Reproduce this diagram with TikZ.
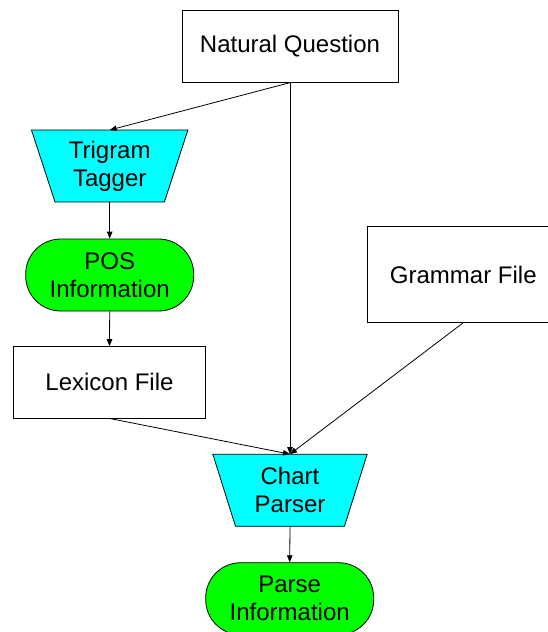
\documentclass[tikz,border=0pt]{standalone}
\usepackage{fontspec}
\setmainfont{Liberation Sans}
\usetikzlibrary{arrows.meta,calc,backgrounds}

\definecolor{stagefill}{RGB}{0,255,255}
\definecolor{resultfill}{RGB}{0,255,0}

\tikzset{
  every node/.style={font=\fontsize{24}{28}\selectfont, align=center, inner sep=0pt},
  outline/.style={draw=black, line width=0.8pt},
  filebox/.style={outline, fill=white, minimum width=#1, minimum height=71.5pt},
  resultpill/.style={outline, fill=resultfill, minimum width=168pt, minimum height=72pt, rounded corners=35pt},
  funnel/.style={minimum width=156pt, minimum height=71.5pt},
  flow/.style={line width=0.8pt, draw=black, -{Triangle[length=7pt,width=5.5pt]}}
}

% inverted trapezoid drawn behind a (borderless) node
\newcommand\funnelshape[2]{%
  \begin{scope}[on background layer]
    \draw[outline, fill=stagefill]
      (#1.north west) -- (#1.north east)
      -- ($(#1.south east)+(-#2,0)$) -- ($(#1.south west)+(#2,0)$) -- cycle;
  \end{scope}}

\begin{document}
\begin{tikzpicture}[x=1pt, y=-1pt]
  \useasboundingbox (0,0) rectangle (548,632);
  \begin{scope}[on background layer]
    \fill[white] (0,0) rectangle (548,632);
  \end{scope}
  \clip (0,0) rectangle (548,632);

  % processing stages and data
  \node[filebox=216pt] (nq) at (290,46.5) {Natural Question};
  \node[funnel] (tag) at (109.7,166) {Trigram\\Tagger};
  \funnelshape{tag}{23.5}
  \node[resultpill] (pos) at (109.7,275) {POS\\Information};
  \node[filebox=192pt] (lex) at (109.5,382.3) {Lexicon File};
  \node[filebox=192pt, minimum height=95.6pt] (gram) at (463.3,274.5) {Grammar File};
  \node[funnel, minimum width=154pt, minimum height=71.7pt] (chart) at (290,490.2) {Chart\\Parser};
  \funnelshape{chart}{22.7}
  \node[resultpill] (parse) at (289.7,598.7) {Parse\\Information};

  % connectors
  \draw[flow] (nq.south) -- (tag.north);
  \draw[flow] (nq.south) -- (chart.north);
  \draw[flow] (tag.south) -- (pos.north);
  \draw[flow] (pos.south) -- (lex.north);
  \draw[flow] (lex.south) -- (chart.north);
  \draw[flow] (gram.south) -- (chart.north);
  \draw[flow] (chart.south) -- (parse.north);
\end{tikzpicture}
\end{document}
